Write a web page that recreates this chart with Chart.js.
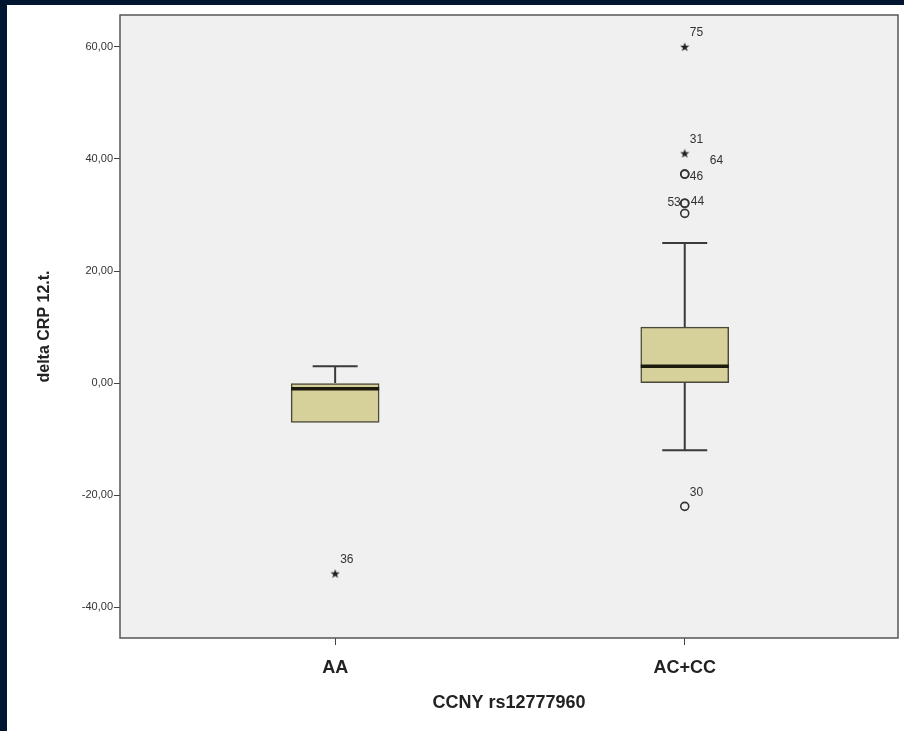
<!DOCTYPE html>
<html>
<head>
<meta charset="utf-8">
<script src="https://cdn.jsdelivr.net/npm/chart.js@4.4.1/dist/chart.umd.min.js"></script>
<style>
    html, body { margin: 0; padding: 0; background: #00152f; }
    #frame { position: absolute; left: 7px; top: 5px; width: 897px; height: 726px; background: #ffffff; }
</style>
</head>
<body>
<div id="frame"><canvas id="myChart" width="897" height="726"></canvas></div>
<script>
// Gruplar ve kutu grafiği istatistikleri
const categories = ['AA', 'AC+CC'];
const groupPos = [1, 2];
const lowerWhisker = [-7, -12];
const q1 = [-7, 0];
const median = [-1, 3];
const q3 = [0, 10];
const upperWhisker = [3, 25];

// Aykırı değerler (o) ve uç değerler (*)
const mildGroup = [2, 2, 2, 2, 2, 2];
const mildValues = [-22, 30.3, 32.1, 32.1, 37.3, 37.3];
const mildIds = ['30', '', '53', '44', '46', '64'];
const extremeGroup = [1, 2, 2];
const extremeValues = [-34, 41, 60];
const extremeIds = ['36', '31', '75'];

const yTicks = [-40, -20, 0, 20, 40, 60];

// Etiket kaydırmaları (sadece stil)
const labelOffsets = {
    '53': { dx: -4, dy: -1, align: 'right' },
    '44': { dx: 6, dy: -2, align: 'left' },
    '46': { dx: 5, dy: 3, align: 'left' },
    '64': { dx: 25, dy: -13, align: 'left' }
};

const fontFamily = '"Liberation Sans", Arial, sans-serif';

// Küçük dolu yıldız işareti
function makeStar() {
    const c = document.createElement('canvas');
    c.width = 10; c.height = 10;
    const g = c.getContext('2d');
    g.fillStyle = '#222';
    g.beginPath();
    for (let i = 0; i < 10; i++) {
        const r = i % 2 === 0 ? 4.8 : 2;
        const a = -Math.PI / 2 + i * Math.PI / 5;
        const px = 5 + r * Math.cos(a), py = 5.3 + r * Math.sin(a);
        if (i === 0) g.moveTo(px, py); else g.lineTo(px, py);
    }
    g.closePath();
    g.fill();
    return c;
}

const boxPlugin = {
    id: 'boxPlugin',
    beforeDraw(chart) {
        const a = chart.chartArea;
        const ctx = chart.ctx;
        ctx.save();
        ctx.fillStyle = '#f0f0f0';
        ctx.fillRect(a.left, a.top, a.right - a.left, a.bottom - a.top);
        ctx.restore();
    },
    afterDatasetsDraw(chart) {
        const ctx = chart.ctx;
        const xs = chart.scales.x, ys = chart.scales.y;
        const boxW = 88, capW = 45;
        ctx.save();
        ctx.strokeStyle = '#3a3a3a';
        ctx.lineWidth = 2;
        for (let i = 0; i < categories.length; i++) {
            const xc = xs.getPixelForValue(groupPos[i]);
            // bıyıklar
            [[q3[i], upperWhisker[i]], [q1[i], lowerWhisker[i]]].forEach(function (pair) {
                if (pair[0] === pair[1]) return;
                const y0 = ys.getPixelForValue(pair[0]);
                const y1 = ys.getPixelForValue(pair[1]);
                ctx.beginPath();
                ctx.moveTo(xc, y0); ctx.lineTo(xc, y1);
                ctx.moveTo(xc - capW / 2, y1); ctx.lineTo(xc + capW / 2, y1);
                ctx.stroke();
            });
            // medyan
            const ym = ys.getPixelForValue(median[i]);
            ctx.save();
            ctx.strokeStyle = '#1c1a0c';
            ctx.lineWidth = 3.5;
            ctx.beginPath();
            ctx.moveTo(xc - boxW / 2, ym); ctx.lineTo(xc + boxW / 2, ym);
            ctx.stroke();
            ctx.restore();
        }
        // nokta etiketleri
        ctx.fillStyle = '#333';
        ctx.font = '12px ' + fontFamily;
        ctx.textBaseline = 'middle';
        function drawLabels(groups, values, ids) {
            for (let i = 0; i < values.length; i++) {
                if (!ids[i]) continue;
                const off = labelOffsets[ids[i]] || { dx: 5, dy: -14, align: 'left' };
                ctx.textAlign = off.align;
                ctx.fillText(ids[i], xs.getPixelForValue(groups[i]) + off.dx, ys.getPixelForValue(values[i]) + off.dy);
            }
        }
        drawLabels(mildGroup, mildValues, mildIds);
        drawLabels(extremeGroup, extremeValues, extremeIds);
        ctx.restore();
    },
    afterDraw(chart) {
        const a = chart.chartArea;
        const ctx = chart.ctx;
        ctx.save();
        ctx.strokeStyle = '#555';
        ctx.lineWidth = 1.5;
        ctx.strokeRect(a.left, a.top, a.right - a.left, a.bottom - a.top);
        ctx.restore();
    }
};

const ctx = document.getElementById('myChart').getContext('2d');
new Chart(ctx, {
    data: {
        datasets: [{
            type: 'bar',
            data: groupPos.map((x, i) => ({ x: x, y: [q1[i], q3[i]] })),
            backgroundColor: '#d6d09b',
            borderColor: '#4a4838',
            borderWidth: 1.5,
            borderSkipped: false,
            barThickness: 88
        }, {
            type: 'scatter',
            data: mildValues.map((v, i) => ({ x: mildGroup[i], y: v })),
            pointStyle: 'circle',
            pointRadius: 4,
            borderWidth: 1.6,
            borderColor: '#333',
            backgroundColor: 'rgba(0,0,0,0)'
        }, {
            type: 'scatter',
            data: extremeValues.map((v, i) => ({ x: extremeGroup[i], y: v })),
            pointStyle: makeStar(),
            pointRadius: 5
        }]
    },
    options: {
        responsive: false,
        animation: false,
        events: [],
        layout: { padding: { top: 10, right: 3, left: 0, bottom: 0 } },
        plugins: { legend: { display: false }, tooltip: { enabled: false } },
        scales: {
            x: {
                type: 'linear',
                offset: false,
                min: 0.3846,
                max: 2.61,
                afterFit: function (scale) { scale.height = 93; },
                afterBuildTicks: function (scale) { scale.ticks = groupPos.map(v => ({ value: v })); },
                grid: { offset: false, drawOnChartArea: false, tickLength: 7, color: '#444' },
                border: { display: false },
                ticks: {
                    padding: 12,
                    color: '#222',
                    font: { family: fontFamily, size: 18, weight: 'bold' },
                    callback: v => categories[groupPos.indexOf(v)]
                },
                title: {
                    display: true,
                    text: 'CCNY rs12777960',
                    color: '#222',
                    font: { family: fontFamily, size: 18, weight: 'bold' },
                    padding: { top: 0, bottom: 17 }
                }
            },
            y: {
                min: -45.5,
                max: 65.7,
                afterFit: function (scale) { scale.width = 113; },
                afterBuildTicks: function (scale) { scale.ticks = yTicks.map(v => ({ value: v })); },
                grid: { drawOnChartArea: false, tickLength: 6, color: '#444' },
                border: { display: false },
                ticks: {
                    padding: 1,
                    color: '#333',
                    font: { family: fontFamily, size: 11 },
                    callback: v => v.toFixed(2).replace('.', ',')
                },
                title: {
                    display: true,
                    text: 'delta CRP 12.t.',
                    color: '#222',
                    font: { family: fontFamily, size: 16, weight: 'bold' },
                    padding: { top: 28, bottom: 0 }
                }
            }
        }
    },
    plugins: [boxPlugin]
});
</script>
</body>
</html>
